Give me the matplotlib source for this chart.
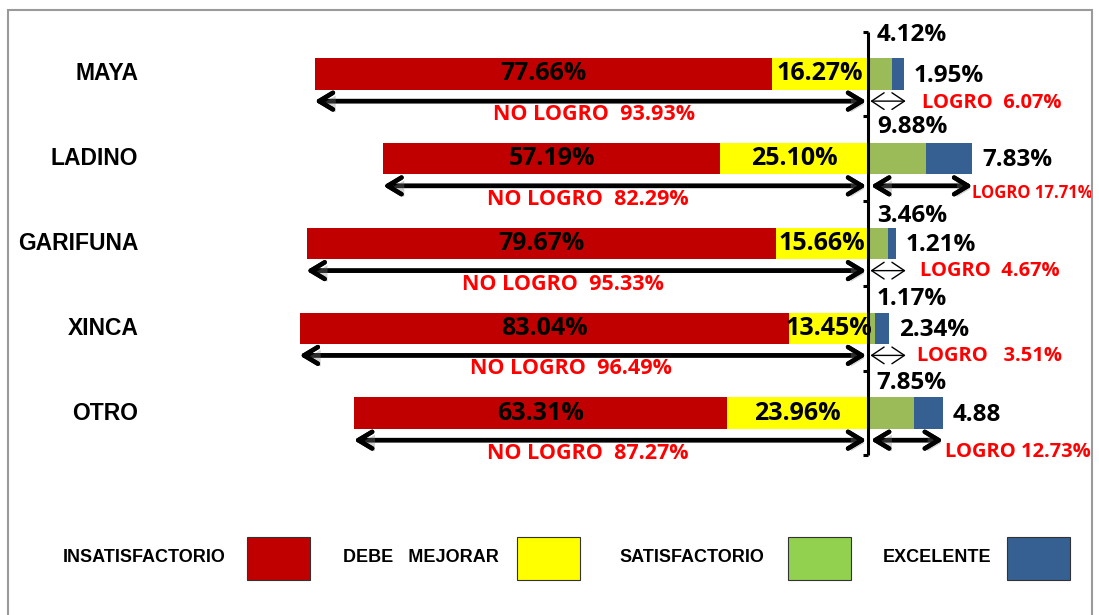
import matplotlib
matplotlib.use("Agg")
import matplotlib.pyplot as plt
import matplotlib.patheffects as pe
from matplotlib.patches import Rectangle

# data
groups = ["MAYA", "LADINO", "GARIFUNA", "XINCA", "OTRO"]
insat = [77.66, 57.19, 79.67, 83.04, 63.31]
debe = [16.27, 25.10, 15.66, 13.45, 23.96]
satis = [4.12, 9.88, 3.46, 1.17, 7.85]
excel = [1.95, 7.83, 1.21, 2.34, 4.88]
excel_labels = ["1.95%", "7.83%", "1.21%", "2.34%", "4.88"]
no_logro = [93.93, 82.29, 95.33, 96.49, 87.27]
logro = [6.07, 17.71, 4.67, 3.51, 12.73]
logro_labels = ["LOGRO  6.07%", "LOGRO 17.71%", "LOGRO  4.67%", "LOGRO   3.51%", "LOGRO 12.73%"]

legend_names = ["INSATISFACTORIO", "DEBE   MEJORAR", "SATISFACTORIO", "EXCELENTE"]
legend_colors = ["#C00000", "#FFFF00", "#92D050", "#366092"]
bar_colors = ["#C00000", "#FFFF00", "#9BBB59", "#376092"]

# label placement tweaks (layout only)
nolog_x = [-46.5, -47.5, -51.8, -50.4, -47.5]
logro_x = [9.2, 17.7, 8.8, 8.3, 13.1]
logro_dy = [0.34, 0.40, 0.32, 0.33, 0.46]
satis_dy = [-0.46, -0.37, -0.33, -0.35, -0.35]

fig = plt.figure(figsize=(10.99, 6.15), dpi=100)
ax = fig.add_axes([0, 0, 1, 1])
ax.set_xlim(-868 / 5.89, 231 / 5.89)
ax.set_ylim(6.383, -0.873)
ax.axis("off")

val_font = ["Open Sans", "DejaVu Sans"]
cat_font = ["Liberation Sans", "DejaVu Sans"]
h = 0.37
ys = list(range(len(groups)))

left_debe = [-d for d in debe]
left_insat = [-(i + d) for i, d in zip(insat, debe)]
ax.barh(ys, insat, left=left_insat, height=h, color=bar_colors[0])
ax.barh(ys, debe, left=left_debe, height=h, color=bar_colors[1])
ax.barh(ys, satis, left=0, height=h, color=bar_colors[2])
ax.barh(ys, excel, left=satis, height=h, color=bar_colors[3])

shadow = [pe.withSimplePatchShadow(offset=(2, -2), shadow_rgbFace="gray", alpha=0.35), pe.Normal()]
thick = dict(arrowstyle="<->,head_length=0.5,head_width=0.3", lw=3.2, color="black",
             mutation_scale=20, shrinkA=0, shrinkB=0, path_effects=shadow)
thin = dict(arrowstyle="<->,head_length=0.45,head_width=0.3", lw=1.0, color="black",
            mutation_scale=20, shrinkA=0, shrinkB=0)

for i, g in enumerate(groups):
    ax.text(-123.9, i, g, ha="right", va="center", fontsize=16.5, fontweight="bold",
            family=cat_font)
    ax.text(left_insat[i] + insat[i] / 2, i, f"{insat[i]:.2f}%", ha="center", va="center",
            fontsize=18, fontweight="bold", family=val_font)
    ax.text(-debe[i] / 2, i, f"{debe[i]:.2f}%", ha="center", va="center",
            fontsize=18, fontweight="bold", family=val_font)
    ax.text(1.5, i + satis_dy[i], f"{satis[i]:.2f}%", ha="left", va="center",
            fontsize=17.5, fontweight="bold", family=val_font)
    ax.text(satis[i] + excel[i] + 1.7, i + 0.02, excel_labels[i], ha="left", va="center",
            fontsize=17.5, fontweight="bold", family=val_font)

    ya = i + 0.32
    ax.annotate("", xy=(-no_logro[i], ya), xytext=(-0.3, ya), arrowprops=thick)
    if logro[i] > 10:
        ax.annotate("", xy=(0.5, ya), xytext=(logro[i], ya), arrowprops=thick)
    else:
        ax.annotate("", xy=(0.4, ya), xytext=(6.4, ya), arrowprops=thin)

    ax.text(nolog_x[i], i + 0.48, f"NO LOGRO  {no_logro[i]:.2f}%", ha="center", va="center",
            fontsize=15.5, fontweight="bold", color="#FF0000", family=val_font)
    ax.text(logro_x[i], i + logro_dy[i], logro_labels[i], ha="left", va="center",
            fontsize=12 if logro[i] > 15 else 14.5, fontweight="bold", color="#FF0000",
            family=val_font)

# central axis with small ticks
ax.vlines(0, -0.5, 4.5, color="black", lw=2.2)
ax.hlines([k - 0.5 for k in range(len(groups) + 1)], -0.9, 0, color="black", lw=2.2)

# legend drawn by hand, labels to the left of the boxes
box_x = [247, 517, 788, 1007]
text_x = [63, 343, 619, 883]
for name, col, bx, tx in zip(legend_names, legend_colors, box_x, text_x):
    fig.patches.append(Rectangle((bx / 1099, 1 - 580 / 615), 63 / 1099, 43 / 615,
                                 transform=fig.transFigure, facecolor=col,
                                 edgecolor="#333333", lw=0.8))
    fig.text(tx / 1099, 1 - 557 / 615, name, ha="left", va="center", fontsize=13,
             fontweight="bold", family=["Liberation Sans Narrow", "Liberation Sans", "DejaVu Sans"])

# chart frame
fig.patches.append(Rectangle((8 / 1099, -0.05), 1084 / 1099, 1.05 - 10 / 615,
                             transform=fig.transFigure, fill=False, edgecolor="#9A9A9A", lw=1.5))

fig.savefig("out.png", dpi=100)
